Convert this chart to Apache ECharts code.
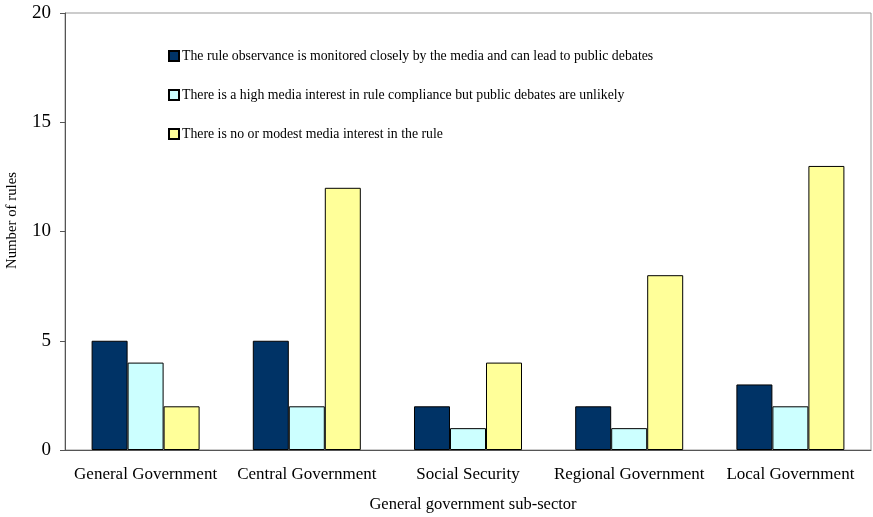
<!DOCTYPE html>
<html>
<head>
<meta charset="utf-8">
<script src="https://cdn.jsdelivr.net/npm/echarts@6/dist/echarts.min.js"></script>
<style>html,body{margin:0;padding:0;background:#fff}#c{width:873px;height:517px}</style>
</head>
<body>
<div id="c"></div>
<script>
const categories = ['General Government', 'Central Government', 'Social Security', 'Regional Government', 'Local Government'];
const seriesNames = [
  'The rule observance is monitored closely by the media and can lead to public debates',
  'There is a high media interest in rule compliance but public debates are unlikely',
  'There is no or modest media interest in the rule'
];
const monitoredClosely = [5, 5, 2, 2, 3];
const highInterest = [4, 2, 1, 1, 2];
const modestInterest = [2, 12, 4, 8, 13];
const yTicks = [0, 5, 10, 15, 20];

const colors = ['#003366', '#CCFFFF', '#FFFF99'];
const font = 'Liberation Serif';
const chart = echarts.init(document.getElementById('c'));
const values = [monitoredClosely, highInterest, modestInterest];
chart.setOption({
  animation: false,
  textStyle: { fontFamily: font },
  grid: { left: 65, right: 2, top: 13, bottom: 67, show: true, borderColor: '#999', borderWidth: 1, outerBoundsMode: 'none', containLabel: false },
  legend: {
    orient: 'vertical',
    left: 163, top: 44,
    itemGap: 25,
    itemWidth: 10, itemHeight: 10,
    icon: 'rect',
    textStyle: { fontFamily: font, fontSize: 13.8, color: '#000', padding: [0, 0, 0, -2] },
    data: seriesNames
  },
  xAxis: {
    type: 'category',
    data: categories,
    name: 'General government sub-sector',
    nameLocation: 'middle',
    nameGap: 46,
    nameTextStyle: { fontFamily: font, fontSize: 16.5, color: '#000', padding: [0, 0, 0, 10] },
    axisLine: { lineStyle: { color: '#555' } },
    axisTick: { length: 5, lineStyle: { color: '#555' } },
    axisLabel: { interval: 0, fontFamily: font, fontSize: 17, color: '#000', margin: 16 }
  },
  yAxis: {
    type: 'value',
    min: yTicks[0], max: yTicks[yTicks.length - 1], interval: 5,
    name: 'Number of rules',
    nameLocation: 'middle',
    nameGap: 45,
    nameTextStyle: { fontFamily: font, fontSize: 14.8, color: '#000', padding: [0, 0, 0, 22] },
    axisLine: { show: true, lineStyle: { color: '#555' } },
    axisTick: { show: true, length: 5, lineStyle: { color: '#555' } },
    splitLine: { show: false },
    axisLabel: { fontFamily: font, fontSize: 19, color: '#000', margin: 14 }
  },
  series: seriesNames.map((n, i) => ({
    name: n,
    type: 'bar',
    data: values[i],
    barGap: '0%',
    barCategoryGap: '33%',
    itemStyle: { color: colors[i], borderColor: '#000', borderWidth: 1 }
  }))
});
</script>
</body>
</html>
